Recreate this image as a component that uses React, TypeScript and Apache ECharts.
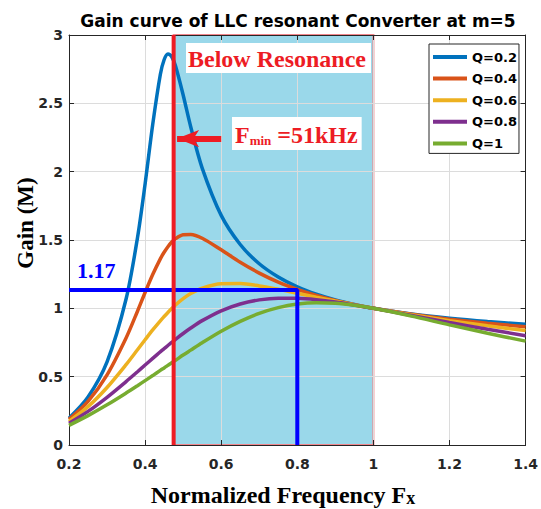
import React, { useEffect, useRef } from "react";
import * as echarts from "echarts";

// Normalized frequency samples
const FX = [0.2, 0.25, 0.3, 0.35, 0.38, 0.4, 0.42, 0.44, 0.45, 0.46, 0.47, 0.48, 0.5, 0.52, 0.55, 0.6, 0.65, 0.7, 0.75, 0.8, 0.85, 0.9, 0.95, 1.0, 1.1, 1.2, 1.3, 1.4];

// Gain values
const GAIN_Q02 = [0.196, 0.351, 0.608, 1.068, 1.517, 1.910, 2.345, 2.711, 2.819, 2.861, 2.841, 2.773, 2.561, 2.327, 2.026, 1.680, 1.467, 1.326, 1.229, 1.157, 1.103, 1.061, 1.028, 1.0, 0.958, 0.927, 0.903, 0.884];
const GAIN_Q04 = [0.187, 0.319, 0.513, 0.783, 0.979, 1.116, 1.247, 1.362, 1.410, 1.451, 1.485, 1.510, 1.538, 1.541, 1.513, 1.428, 1.337, 1.258, 1.192, 1.139, 1.095, 1.058, 1.027, 1.0, 0.956, 0.921, 0.891, 0.865];
const GAIN_Q06 = [0.173, 0.281, 0.421, 0.588, 0.697, 0.770, 0.842, 0.909, 0.940, 0.970, 0.998, 1.025, 1.071, 1.108, 1.148, 1.180, 1.181, 1.164, 1.139, 1.110, 1.081, 1.053, 1.026, 1.0, 0.953, 0.910, 0.872, 0.837];
const GAIN_Q08 = [0.159, 0.246, 0.349, 0.464, 0.536, 0.585, 0.634, 0.682, 0.705, 0.728, 0.751, 0.773, 0.816, 0.856, 0.910, 0.982, 1.032, 1.062, 1.074, 1.073, 1.063, 1.046, 1.024, 1.0, 0.948, 0.896, 0.847, 0.800];
const GAIN_Q1 = [0.144, 0.215, 0.294, 0.380, 0.434, 0.471, 0.508, 0.546, 0.564, 0.583, 0.602, 0.620, 0.658, 0.694, 0.748, 0.832, 0.904, 0.963, 1.005, 1.031, 1.041, 1.037, 1.022, 1.0, 0.943, 0.879, 0.818, 0.760];

const SERIES_NAMES = ["Q=0.2", "Q=0.4", "Q=0.6", "Q=0.8", "Q=1"];
const SERIES_VALUES = [GAIN_Q02, GAIN_Q04, GAIN_Q06, GAIN_Q08, GAIN_Q1];
const SERIES_COLORS = ["#0072BD", "#D95319", "#EDB120", "#7E2F8E", "#77AC30"];

// Axis ranges
const X_MIN = 0.2;
const X_MAX = 1.4;
const X_STEP = 0.2;
const Y_MIN = 0;
const Y_MAX = 3;
const Y_STEP = 0.5;

// Annotations (data coordinates)
const FMIN_X = 0.475; // red vertical line
const RESONANCE_X = 1.0; // end of shaded region
const MARK_X = 0.8; // blue guide
const MARK_Y = 1.135; // blue guide level
const ARROW_Y = 2.242;
const ARROW_FROM_X = 0.6;
const ARROW_TO_X = 0.484;

const RED = "#ED1C24";
const BLUE = "#0000FF";
const AXIS = "#262626";
const SANS = "DejaVu Sans";
const SERIF = "Liberation Serif";

export default function App() {
  const ref = useRef<HTMLDivElement>(null);

  useEffect(() => {
    if (!ref.current) return;
    const chart = echarts.init(ref.current, null, { renderer: "svg" });

    const curveSeries = SERIES_NAMES.map((name, k) => ({
      name,
      type: "line",
      data: FX.map((x, i) => [x, SERIES_VALUES[k][i]]),
      showSymbol: false,
      symbol: "none",
      smooth: 0.3,
      lineStyle: { color: SERIES_COLORS[k], width: 3.5 },
      itemStyle: { color: SERIES_COLORS[k] },
      z: 2,
      silent: true,
    }));

    const axisLabel = {
      color: AXIS,
      fontFamily: SANS,
      fontWeight: "bold",
      fontSize: 14,
    };

    const option: any = {
      animation: false,
      grid: { left: 69, right: 13, top: 35, bottom: 64, containLabel: false },
      xAxis: [
        {
          type: "value",
          min: X_MIN,
          max: X_MAX,
          interval: X_STEP,
          position: "bottom",
          axisLine: { show: true, onZero: false, lineStyle: { color: AXIS, width: 1 } },
          axisTick: { show: true, inside: true, length: 5, lineStyle: { color: AXIS } },
          axisLabel: { ...axisLabel, margin: 12 },
          splitLine: { show: true, lineStyle: { color: "#DCDCDC", width: 1 } },
        },
        {
          type: "value",
          min: X_MIN,
          max: X_MAX,
          interval: X_STEP,
          position: "top",
          axisLine: { show: true, onZero: false, lineStyle: { color: AXIS, width: 1 } },
          axisTick: { show: true, inside: true, length: 5, lineStyle: { color: AXIS } },
          axisLabel: { show: false },
          splitLine: { show: false },
        },
      ],
      yAxis: [
        {
          type: "value",
          min: Y_MIN,
          max: Y_MAX,
          interval: Y_STEP,
          position: "left",
          axisLine: { show: true, onZero: false, lineStyle: { color: AXIS, width: 1 } },
          axisTick: { show: true, inside: true, length: 5, lineStyle: { color: AXIS } },
          axisLabel: { ...axisLabel, margin: 6 },
          splitLine: { show: true, lineStyle: { color: "#DCDCDC", width: 1 } },
        },
        {
          type: "value",
          min: Y_MIN,
          max: Y_MAX,
          interval: Y_STEP,
          position: "right",
          axisLine: { show: true, onZero: false, lineStyle: { color: AXIS, width: 1 } },
          axisTick: { show: true, inside: true, length: 5, lineStyle: { color: AXIS } },
          axisLabel: { show: false },
          splitLine: { show: false },
        },
      ],
      legend: {
        data: SERIES_NAMES.map((name) => ({ name, icon: "rect" })),
        orient: "vertical",
        left: 429,
        top: 44,
        itemWidth: 34,
        itemHeight: 4,
        itemGap: 5.6,
        padding: [5, 2, 2, 4],
        backgroundColor: "#fff",
        borderColor: AXIS,
        borderWidth: 1,
        selectedMode: false,
        textStyle: { fontFamily: SANS, fontWeight: "bold", fontSize: 13, color: "#000", lineHeight: 16 },
      },
      series: [
        {
          type: "custom",
          silent: true,
          z: -1,
          data: [[FMIN_X, RESONANCE_X]],
          encode: { x: [0, 1] },
          renderItem: (_params: any, api: any) => {
            const p0 = api.coord([api.value(0), Y_MAX]);
            const p1 = api.coord([api.value(1), Y_MIN]);
            return {
              type: "rect",
              shape: { x: p0[0], y: p0[1], width: p1[0] - p0[0], height: p1[1] - p0[1] },
              style: { fill: "#9AD8EA", stroke: "#F0868C", lineWidth: 2 },
            };
          },
        },
        ...curveSeries,
        {
          type: "line",
          data: [
            [X_MIN, MARK_Y],
            [MARK_X, MARK_Y],
            [MARK_X, Y_MIN],
          ],
          showSymbol: false,
          symbol: "none",
          lineStyle: { color: BLUE, width: 4 },
          z: 4,
          silent: true,
        },
        {
          type: "line",
          data: [
            [FMIN_X, Y_MIN],
            [FMIN_X, Y_MAX],
          ],
          showSymbol: false,
          symbol: "none",
          lineStyle: { color: RED, width: 4 },
          z: 5,
          silent: true,
          markLine: {
            silent: true,
            symbol: ["none", "arrow"],
            symbolSize: [13, 22],
            label: { show: false },
            lineStyle: { color: RED, width: 6, type: "solid" },
            data: [[{ coord: [ARROW_FROM_X, ARROW_Y] }, { coord: [ARROW_TO_X, ARROW_Y] }]],
          },
        },
      ],
      graphic: [
        {
          type: "text",
          x: 298,
          y: 21,
          style: {
            text: "Gain curve of LLC resonant Converter at m=5",
            font: `bold 17px "${SANS}"`,
            fill: "#000",
            align: "center",
            verticalAlign: "middle",
          },
        },
        {
          type: "text",
          x: 186,
          y: 43,
          z: 10,
          style: {
            text: "Below Resonance",
            font: `bold 24px "${SERIF}"`,
            fill: RED,
            backgroundColor: "#fff",
            padding: [4, 5, 2, 2],
            align: "left",
            verticalAlign: "top",
          },
        },
        {
          type: "text",
          x: 232,
          y: 117,
          z: 10,
          style: {
            text: "{a|F}{b|min}{a| =51kHz}",
            backgroundColor: "#fff",
            padding: [4, 4, 3, 3],
            align: "left",
            verticalAlign: "top",
            rich: {
              a: { fontFamily: SERIF, fontWeight: "bold", fontSize: 24, fill: RED, lineHeight: 26, verticalAlign: "bottom" },
              b: { fontFamily: SERIF, fontWeight: "bold", fontSize: 13, fill: RED, lineHeight: 14, verticalAlign: "bottom" },
            },
          },
        },
        {
          type: "text",
          x: 77,
          y: 270,
          z: 10,
          style: {
            text: "1.17",
            font: `bold 22px "${SERIF}"`,
            fill: BLUE,
            align: "left",
            verticalAlign: "middle",
          },
        },
        {
          type: "text",
          x: 25,
          y: 223,
          rotation: Math.PI / 2,
          style: {
            text: "Gain (M)",
            font: `bold 23px "${SERIF}"`,
            fill: "#000",
            align: "center",
            verticalAlign: "middle",
          },
        },
        {
          type: "text",
          x: 283,
          y: 495,
          style: {
            text: "{a|Normalized Frequency F}{b|x}",
            align: "center",
            verticalAlign: "middle",
            rich: {
              a: { fontFamily: SERIF, fontWeight: "bold", fontSize: 24, fill: "#000", lineHeight: 24, verticalAlign: "bottom" },
              b: { fontFamily: SERIF, fontWeight: "bold", fontSize: 18, fill: "#000", lineHeight: 19, verticalAlign: "bottom" },
            },
          },
        },
      ],
    };

    chart.setOption(option);
    return () => chart.dispose();
  }, []);

  return (
    <div
      ref={ref}
      style={{ position: "fixed", left: 0, top: 0, width: 541, height: 509, background: "#fff" }}
    />
  );
}
